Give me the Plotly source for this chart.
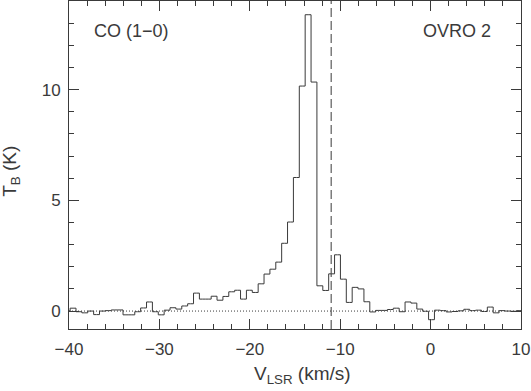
import plotly.graph_objects as go

# channel centres (km/s) and brightness temperature (K)
velocity = [-40.20, -39.55, -38.90, -38.25, -37.60, -36.95, -36.30, -35.65, -35.00, -34.35,
            -33.70, -33.05, -32.40, -31.75, -31.10, -30.45, -29.80, -29.15, -28.50, -27.85,
            -27.20, -26.55, -25.90, -25.25, -24.60, -23.95, -23.30, -22.65, -22.00, -21.35,
            -20.70, -20.05, -19.40, -18.75, -18.10, -17.45, -16.80, -16.15, -15.50, -14.85,
            -14.20, -13.55, -12.90, -12.25, -11.60, -10.95, -10.30, -9.65, -9.00, -8.35,
            -7.70, -7.05, -6.40, -5.75, -5.10, -4.45, -3.80, -3.15, -2.50, -1.85,
            -1.20, -0.55, 0.10, 0.75, 1.40, 2.05, 2.70, 3.35, 4.00, 4.65,
            5.30, 5.95, 6.60, 7.25, 7.90, 8.55, 9.20, 9.85, 10.50]
tb = [0.00, 0.13, -0.03, -0.08, 0.00, -0.16, 0.00, 0.02, 0.05, 0.05,
      -0.17, -0.17, -0.03, 0.14, 0.41, -0.03, -0.17, 0.04, 0.15, 0.09,
      0.23, 0.33, 0.81, 0.54, 0.54, 0.67, 0.49, 0.66, 0.87, 0.94,
      0.54, 0.94, 0.84, 1.23, 1.67, 1.89, 2.21, 3.06, 4.02, 6.03,
      10.16, 13.38, 10.34, 1.14, 0.93, 1.68, 2.54, 1.44, 0.39, 1.07,
      1.00, 0.42, -0.04, 0.03, 0.03, 0.07, 0.13, -0.03, 0.41, 0.36,
      0.09, -0.01, -0.39, 0.04, 0.02, -0.04, -0.02, 0.01, 0.08, 0.02,
      0.04, -0.02, 0.18, -0.08, 0.02, 0.00, -0.01, 0.02, 0.00]

v_sys = -11.0
line_name = "CO (1−0)"
source_name = "OVRO 2"

ink = "#3a3a3a"
tick_font = dict(family="Liberation Sans", size=17, color=ink)
label_font = dict(family="Liberation Sans", size=18, color=ink)
title_font = dict(family="Liberation Sans", size=19, color=ink)

fig = go.Figure()
fig.add_trace(go.Scatter(x=velocity, y=tb, mode='lines', line_shape='hvh',
                         line=dict(color=ink, width=1), hoverinfo='skip'))

# baseline and systemic velocity
fig.add_hline(y=0, line=dict(color=ink, width=1, dash='1px,2px'))
fig.add_vline(x=v_sys, line=dict(color=ink, width=1, dash='9px,4px'))

axis_common = dict(showline=True, linecolor=ink, linewidth=1, mirror='ticks',
                   ticks='inside', ticklen=10, tickcolor=ink, tickwidth=1,
                   showgrid=False, zeroline=False, tickfont=tick_font)

fig.update_xaxes(range=[-40, 10], tick0=-40, dtick=10, ticklabelstandoff=5,
                 minor=dict(dtick=2, ticks='inside', ticklen=5, tickcolor=ink, tickwidth=1),
                 **axis_common)
fig.update_yaxes(range=[-0.81, 14.0], tick0=0, dtick=5, ticklabelstandoff=4,
                 minor=dict(dtick=1, ticks='inside', ticklen=5, tickcolor=ink, tickwidth=1),
                 **axis_common)

fig.add_annotation(text=line_name, xref='paper', yref='paper', x=0.05, y=0.908,
                   xanchor='left', yanchor='middle', showarrow=False, font=label_font)
fig.add_annotation(text=source_name, xref='paper', yref='paper', x=0.938, y=0.908,
                   xanchor='right', yanchor='middle', showarrow=False, font=label_font)
fig.add_annotation(text="V<sub>LSR</sub> (km/s)", xref='paper', yref='paper', x=0.517, y=-0.14,
                   xanchor='center', yanchor='middle', showarrow=False, font=title_font)
fig.add_annotation(text="T<sub>B</sub> (K)", xref='paper', yref='paper', x=-0.13, y=0.48,
                   xanchor='center', yanchor='middle', textangle=-90, showarrow=False, font=title_font)

fig.update_layout(width=531, height=391, showlegend=False,
                  margin=dict(l=69, r=10, t=1, b=62),
                  plot_bgcolor='white', paper_bgcolor='white')

# drop the default page margin so the figure sits at the window's corner
fig.write_html("out.html", config={'displayModeBar': False},
               post_script="document.body.style.margin='0';")
